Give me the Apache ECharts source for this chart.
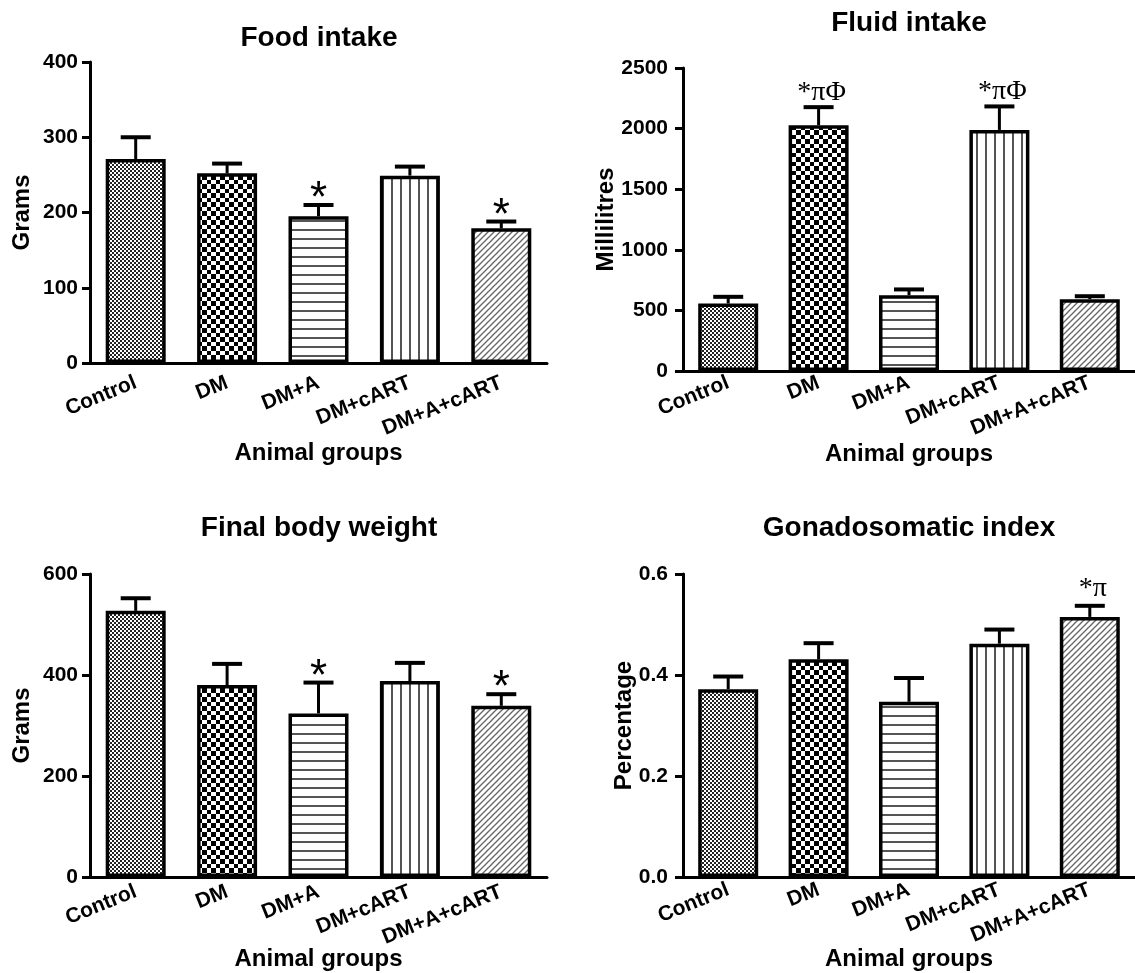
<!DOCTYPE html>
<html><head><meta charset="utf-8">
<script src="https://cdn.jsdelivr.net/npm/echarts@6/dist/echarts.min.js"></script>
<style>html,body{margin:0;padding:0;background:#fff}#c{width:1135px;height:973px}</style>
</head><body><div id="c"></div>
<script>
// ---------- data ----------
const categories = ['Control', 'DM', 'DM+A', 'DM+cART', 'DM+A+cART'];

const foodMean  = [271, 252, 195, 249, 179];
const foodUpper = [300, 265, 210, 261, 188];
const foodMarks = ['', '', '*', '', '*'];

const fluidMean  = [557, 2028, 626, 1989, 593];
const fluidUpper = [612, 2177, 673, 2183, 617];
const fluidMarks = ['', '*πΦ', '', '*πΦ', ''];

const weightMean  = [527, 380, 324, 388, 339];
const weightUpper = [552, 422, 385, 424, 362];
const weightMarks = ['', '', '*', '', '*'];

const gsiMean  = [0.372, 0.431, 0.347, 0.462, 0.515];
const gsiUpper = [0.397, 0.463, 0.394, 0.490, 0.537];
const gsiMarks = ['', '', '', '', '*π'];

const titles = ['Food intake', 'Fluid intake', 'Final body weight', 'Gonadosomatic index'];
const yNames = ['Grams', 'Millilitres', 'Grams', 'Percentage'];
const xName = 'Animal groups';
const yMax  = [400, 2500, 600, 0.6];
const yStep = [100, 500, 200, 0.2];
const yDecimals = [0, 0, 0, 1];

// ---------- styling / layout ----------
const SANS = '"Liberation Sans", Arial, Helvetica, sans-serif';
const SERIF = '"Liberation Serif", "Times New Roman", serif';
const panels = [
  {mean: foodMean,   upper: foodUpper,   marks: foodMarks,   grid: {left: 90,  top: 62,  width: 457, height: 301}, title: [319, 38],  xGap: 90, yGap: 68, labelMargin: 12, xMargin: 19},
  {mean: fluidMean,  upper: fluidUpper,  marks: fluidMarks,  grid: {left: 683, top: 68,  width: 452, height: 303}, title: [909, 23],  xGap: 83, yGap: 77, labelMargin: 15, xMargin: 11},
  {mean: weightMean, upper: weightUpper, marks: weightMarks, grid: {left: 90,  top: 574, width: 457, height: 303}, title: [319, 528], xGap: 82, yGap: 68, labelMargin: 12, xMargin: 14},
  {mean: gsiMean,    upper: gsiUpper,    marks: gsiMarks,    grid: {left: 683, top: 574, width: 452, height: 303}, title: [909, 528], xGap: 82, yGap: 59, labelMargin: 15, xMargin: 12}
];

function makeTile(w, h, draw) {
  const c = document.createElement('canvas');
  c.width = w; c.height = h;
  const g = c.getContext('2d');
  g.fillStyle = '#fff'; g.fillRect(0, 0, w, h);
  draw(g);
  return c;
}
const tiles = [
  makeTile(4, 4, g => { g.fillStyle = '#222'; g.fillRect(0, 0, 2, 2); g.fillRect(2, 2, 2, 2); }),
  makeTile(9, 9, g => { g.fillStyle = '#000'; g.fillRect(0, 0, 4, 4); g.fillRect(4, 4, 5, 5); }),
  makeTile(9, 9, g => { g.fillStyle = '#555'; g.fillRect(0, 4, 9, 2); }),
  makeTile(9, 9, g => { g.fillStyle = '#555'; g.fillRect(4, 0, 2, 9); }),
  makeTile(6, 6, g => {
    g.strokeStyle = '#666'; g.lineWidth = 1.3;
    [[-3, 3, 3, -3], [0, 6, 6, 0], [3, 9, 9, 3]].forEach(s => { g.beginPath(); g.moveTo(s[0], s[1]); g.lineTo(s[2], s[3]); g.stroke(); });
  })
];

const grid = [], xAxis = [], yAxis = [], series = [], graphic = [];
panels.forEach((p, i) => {
  grid.push(Object.assign({outerBoundsMode: 'none', containLabel: false}, p.grid));
  xAxis.push({
    gridIndex: i, type: 'category', data: categories,
    axisLine: {lineStyle: {color: '#000', width: 3}},
    axisTick: {alignWithLabel: true, length: 7, lineStyle: {color: '#000', width: 3}},
    axisLabel: {interval: 0, rotate: 22, margin: p.xMargin, color: '#000', fontWeight: 'bold', fontSize: 21, fontFamily: SANS},
    name: xName, nameLocation: 'middle', nameGap: p.xGap, nameMoveOverlap: false,
    nameTextStyle: {color: '#000', fontWeight: 'bold', fontSize: 24, fontFamily: SANS, verticalAlign: 'middle'}
  });
  yAxis.push({
    gridIndex: i, type: 'value', min: 0, max: yMax[i], interval: yStep[i],
    splitLine: {show: false},
    axisLine: {show: true, lineStyle: {color: '#000', width: 3}},
    axisTick: {show: true, length: 8, lineStyle: {color: '#000', width: 3}},
    axisLabel: {margin: p.labelMargin, color: '#000', fontWeight: 'bold', fontSize: 21, fontFamily: SANS,
      formatter: v => v.toFixed(yDecimals[i])},
    name: yNames[i], nameLocation: 'middle', nameRotate: 90, nameGap: p.yGap, nameMoveOverlap: false,
    nameTextStyle: {color: '#000', fontWeight: 'bold', fontSize: 24, fontFamily: SANS, verticalAlign: 'middle'}
  });
  series.push({
    type: 'bar', xAxisIndex: i, yAxisIndex: i, barWidth: 60,
    data: p.mean.map((v, k) => ({value: v, itemStyle: {color: {image: tiles[k], repeat: 'repeat'}}})),
    itemStyle: {borderColor: '#000', borderWidth: 3.5}
  });
  series.push({
    type: 'custom', xAxisIndex: i, yAxisIndex: i, clip: false, z: 5,
    data: p.mean.map((v, k) => [k, v, p.upper[k]]),
    renderItem: (params, api) => {
      const k = api.value(0);
      const p0 = api.coord([k, api.value(1)]);
      const p1 = api.coord([k, api.value(2)]);
      const children = [
        {type: 'line', shape: {x1: p0[0], y1: p0[1], x2: p1[0], y2: p1[1]}, style: {stroke: '#000', lineWidth: 3}},
        {type: 'line', shape: {x1: p1[0] - 15, y1: p1[1], x2: p1[0] + 15, y2: p1[1]}, style: {stroke: '#000', lineWidth: 4}}
      ];
      const mark = p.marks[params.dataIndex];
      if (mark) {
        const single = mark === '*';
        children.push({
          type: 'text', x: p1[0] + (single ? 0 : 3), y: p1[1] - (single ? 5 : (mark.length === 2 ? 17 : 15)),
          style: {text: mark, fill: '#000', align: 'center', verticalAlign: 'middle',
            font: single ? ('44px ' + SANS) : ('28px ' + SERIF)}
        });
      }
      return {type: 'group', children};
    }
  });
  graphic.push({
    type: 'text', x: p.title[0], y: p.title[1],
    style: {text: titles[i], fill: '#000', align: 'center', verticalAlign: 'middle', font: 'bold 28px ' + SANS}
  });
});

const chart = echarts.init(document.getElementById('c'), null, {renderer: 'canvas'});
chart.setOption({animation: false, backgroundColor: '#fff', grid, xAxis, yAxis, series, graphic});
</script>
</body></html>
